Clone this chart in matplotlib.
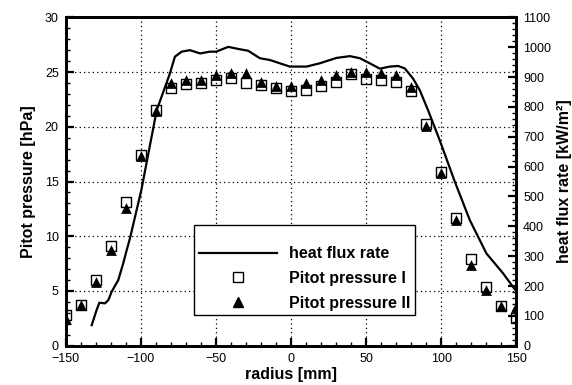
import matplotlib
matplotlib.use("Agg")
import matplotlib.pyplot as plt
from matplotlib.ticker import MultipleLocator
from matplotlib.lines import Line2D

plt.rcParams["font.family"] = ["Liberation Sans", "DejaVu Sans"]

# Pitot pressure measurements [hPa] along the radius [mm]
radius_pts = [-150, -140, -130, -120, -110, -100, -90, -80, -70, -60, -50, -40,
              -30, -20, -10, 0, 10, 20, 30, 40, 50, 60, 70, 80, 90, 100, 110,
              120, 130, 140, 150]
pitot_1 = [2.8, 3.7, 6.0, 9.1, 13.1, 17.4, 21.5, 23.5, 23.9, 24.0, 24.3, 24.5,
           24.0, 23.8, 23.5, 23.3, 23.4, 23.7, 24.1, 24.8, 24.4, 24.3, 24.1,
           23.3, 20.3, 15.9, 11.7, 7.9, 5.4, 3.6, 2.5]
pitot_2 = [2.4, 3.7, 5.8, 8.7, 12.6, 17.3, 21.4, 24.0, 24.3, 24.3, 24.7, 24.9,
           24.9, 24.1, 23.7, 23.7, 24.0, 24.3, 24.7, 25.0, 25.0, 24.9, 24.7,
           23.6, 20.1, 15.75, 11.5, 7.4, 5.1, 3.6, 3.5]

# Heat flux rate profile [kW/m^2]
radius_q = [-132.7, -129.4, -127.6, -123.8, -121.6, -119.4, -115.0, -111.7,
            -109.4, -107.2, -99.7, -89.4, -80.6, -77.3, -72.8, -67.3, -60.5,
            -54.0, -49.8, -41.8, -34.0, -28.5, -20.7, -14.0, -7.4, -0.7, 10.4,
            19.2, 30.3, 39.2, 45.9, 52.5, 59.2, 65.8, 71.4, 75.8, 81.3, 85.8,
            91.3, 99.1, 109.1, 119.1, 130.2, 141.2, 147.9, 150.0]
heat_flux = [69, 120, 144, 142, 153, 181, 220, 276, 320, 360, 520, 789, 912,
             968, 985, 990, 979, 985, 985, 1001, 993, 988, 963, 957, 946, 935,
             935, 946, 964, 970, 963, 946, 928, 935, 937, 929, 895, 856, 789,
             688, 550, 421, 309, 243, 197, 183]

fig = plt.figure(figsize=(5.72, 3.85), dpi=100)
ax = fig.add_axes([0.1149, 0.102, 0.7875, 0.853])
ax2 = ax.twinx()

# pressure axis drawn on top of the heat-flux axis
ax.set_zorder(ax2.get_zorder() + 1)
ax.patch.set_visible(False)

ax2.plot(radius_q, heat_flux, color="black", lw=1.6, zorder=2,
         solid_joinstyle="round")

ax.scatter(radius_pts, pitot_1, marker="s", s=52, facecolors="none",
           edgecolors="black", linewidths=1.0, zorder=3)
ax.scatter(radius_pts, pitot_2, marker="^", s=60, color="black",
           linewidths=0, zorder=4)

ax.set_xlim(-150, 150)
ax.set_ylim(0, 30)
ax2.set_ylim(0, 1100)

ax.xaxis.set_major_locator(MultipleLocator(50))
ax.xaxis.set_minor_locator(MultipleLocator(10))
ax.yaxis.set_major_locator(MultipleLocator(5))
ax.yaxis.set_minor_locator(MultipleLocator(1))
ax2.yaxis.set_major_locator(MultipleLocator(100))
ax2.yaxis.set_minor_locator(MultipleLocator(20))

ax.grid(True, which="major", color="black", linestyle=(0, (1, 2.5)), lw=0.9)

for a in (ax, ax2):
    for sp in a.spines.values():
        sp.set_linewidth(2.0)
    a.tick_params(which="major", direction="in", length=6, width=1.6,
                  labelsize=9, pad=5)
    a.tick_params(which="minor", direction="in", length=3, width=1.0)
ax.tick_params(axis="x", which="both", top=False)
ax2.tick_params(axis="y", which="both", left=False)

ax.set_xlabel("radius [mm]", fontsize=11.5, fontweight="bold", labelpad=2)
ax.set_ylabel("Pitot pressure [hPa]", fontsize=11.5, fontweight="bold",
              labelpad=6)
ax2.set_ylabel("heat flux rate [kW/m²]", fontsize=11.5, fontweight="bold",
               labelpad=4)

handles = [
    Line2D([], [], color="black", lw=1.6),
    Line2D([], [], marker="s", ls="none", markersize=7,
           markerfacecolor="none", markeredgecolor="black"),
    Line2D([], [], marker="^", ls="none", markersize=7.5, color="black"),
]
labels = ["heat flux rate", "Pitot pressure I", "Pitot pressure II"]
leg = ax.legend(handles, labels, loc="upper left",
                bbox_to_anchor=(0.285, 0.3675),
                borderaxespad=0, fancybox=False,
                framealpha=1, edgecolor="black", handlelength=4.9,
                handletextpad=0.75, labelspacing=0.6, borderpad=0.3,
                title=" ", title_fontsize=5,
                prop={"weight": "bold", "size": 11.5})
leg.get_frame().set_linewidth(1.0)
leg.set_zorder(10)

fig.savefig("out.png", dpi=100)
